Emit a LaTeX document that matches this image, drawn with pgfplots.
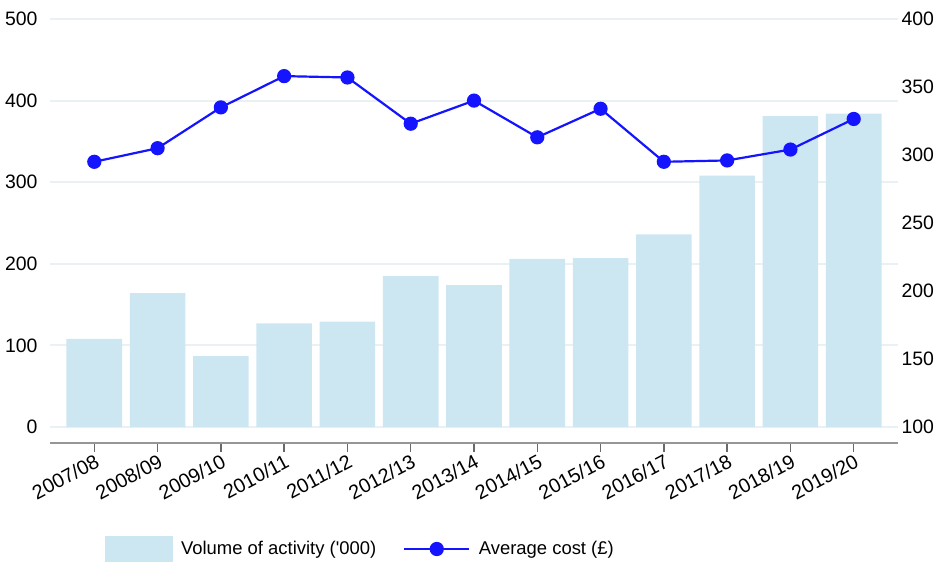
\documentclass[border=0pt]{standalone}
\usepackage{fontspec}
\setmainfont{Liberation Sans}
\usepackage{pgfplots}
\pgfplotsset{compat=1.18}
\definecolor{barcol}{RGB}{204,230,242}
\definecolor{linecol}{RGB}{20,20,255}
\definecolor{gridcol}{RGB}{234,241,244}
\definecolor{axcol}{RGB}{150,150,150}
\begin{document}
\begin{tikzpicture}
\path[use as bounding box] (-50bp,-123bp) rectangle (889bp,443bp);
\begin{axis}[
  at={(0,0)}, anchor=south west,
  scale only axis, width=848bp, height=424bp,
  xmin=-0.7, xmax=12.7, ymin=-19.6, ymax=500,
  axis x line*=bottom, axis y line*=left,
  y axis line style={draw=none},
  x axis line style={draw=axcol, line width=1.5bp, -},
  xtick={0,...,12},
  xticklabels={2007/08,2008/09,2009/10,2010/11,2011/12,2012/13,2013/14,2014/15,2015/16,2016/17,2017/18,2018/19,2019/20},
  x tick label style={rotate=28, anchor=north east, font=\fontsize{20}{22}\selectfont, inner sep=1bp},
  xtick style={draw=axcol!70!black, line width=1.5bp},
  major tick length=9bp,
  tick align=outside,
  ytick={0,100,...,500},
  ymajorgrids, grid style={gridcol, line width=2bp},
  ytick style={draw=none},
  y tick label style={font=\fontsize{19.5}{21}\selectfont},
  /pgf/number format/assume math mode=true,
  ybar, bar width=55.6bp,
]
\addplot[fill=barcol, draw=none] coordinates {
(0,108) (1,164) (2,87) (3,127) (4,129) (5,185) (6,174) (7,206) (8,207) (9,236) (10,308) (11,381) (12,384)};
\end{axis}
\begin{axis}[
  at={(0,0)}, anchor=south west,
  scale only axis, width=848bp, height=424bp,
  xmin=-0.7, xmax=12.7, ymin=88.24, ymax=400,
  axis x line=none, axis y line*=right,
  y axis line style={draw=none},
  ytick={100,150,...,400},
  ytick style={draw=none},
  y tick label style={font=\fontsize{19.5}{21}\selectfont},
  /pgf/number format/assume math mode=true,
  legend columns=2,
  legend style={at={(0.0649,-0.25)}, anchor=west, draw=none, fill=none, inner sep=0pt,
    font=\fontsize{18.5}{20}\selectfont,
    /tikz/every odd column/.append style={column sep=6.5bp},
    /tikz/every even column/.append style={column sep=25bp}},
]
\addlegendimage{legend image code/.code={\fill[barcol] (0bp,-12.5bp) rectangle (67bp,12.5bp);}}
\addlegendentry{Volume of activity (\textquotesingle 000)}
\addplot[linecol, line width=2.2bp, mark=*, mark size=6bp, mark options={fill=linecol, draw=linecol},
  legend image code/.code={\draw[linecol, line width=2.2bp] (0bp,0bp) -- (65bp,0bp); \fill[linecol] (32.5bp,0bp) circle (6bp);}]
coordinates {
(0,295) (1,305) (2,335) (3,358) (4,357) (5,323) (6,340) (7,313) (8,334) (9,295) (10,296) (11,304) (12,326.5)};
\addlegendentry{Average cost (£)}
\end{axis}
\end{tikzpicture}
\end{document}
